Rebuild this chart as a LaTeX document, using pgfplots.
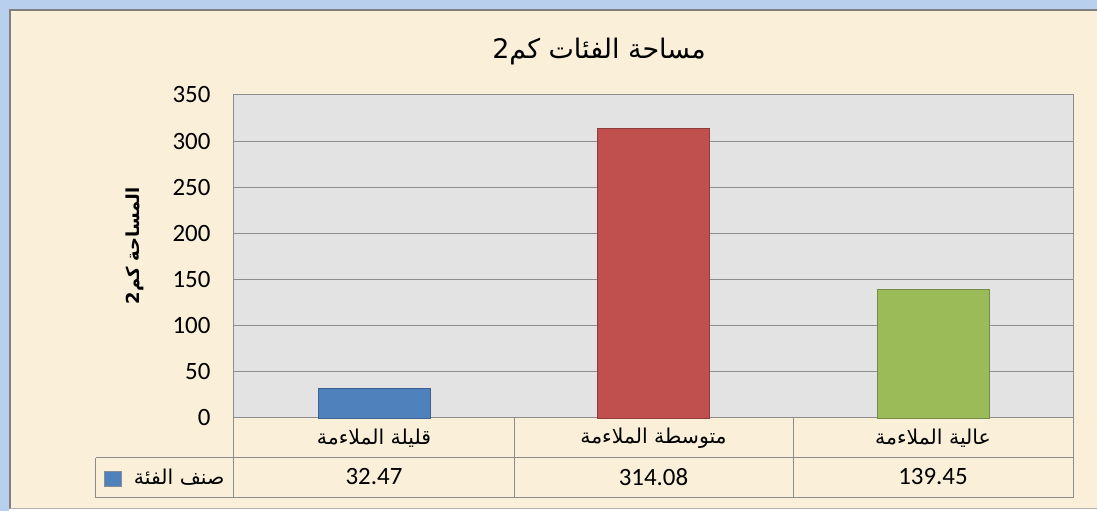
\documentclass[border=0pt]{standalone}
\usepackage{fontspec}
\setmainfont{Carlito}
\newfontfamily\arabicfont[Script=Arabic]{DejaVu Sans}
\usepackage{pgfplots}
\pgfplotsset{compat=1.18}
\TeXXeTstate=1
\definecolor{paper}{HTML}{FAEFD8}
\definecolor{plotgray}{HTML}{E3E3E3}
\definecolor{gridgray}{HTML}{8C8C8C}
\definecolor{framegray}{HTML}{7F7F7F}
\definecolor{glow}{HTML}{B8D0EE}
\definecolor{cblue}{HTML}{4F81BD}
\definecolor{cred}{HTML}{C0504D}
\definecolor{cgreen}{HTML}{9BBB59}

\begin{document}
\begin{tikzpicture}[x=1bp,y=1bp]
% pixel (px,py) of the reference -> (px-234, 418-py)
\useasboundingbox (-234,-93) rectangle (863,418);
\fill[white] (-234,-93) rectangle (863,418);
\draw[glow, line width=9bp] (-229,-100) -- (-229,413) -- (870,413);
\fill[paper] (-224,-91) rectangle (870,408);
\draw[framegray, line width=1.5bp] (-224,-91) -- (-224,408) -- (870,408);
\draw[framegray!60, line width=1bp] (-224,-91) -- (870,-91);

\node[font=\arabicfont\fontsize{27}{27}\selectfont] at (365,366) {\beginR مساحة الفئات كم2\endR};
\node[rotate=90, font=\arabicfont\bfseries\fontsize{18}{18}\selectfont] at (-99,172) {\beginR المساحة كم2\endR};

\begin{axis}[
  at={(0,0)}, anchor=south west,
  width=839bp, height=323bp, scale only axis,
  xmin=-0.5, xmax=2.5, ymin=0, ymax=350,
  ytick={0,50,...,350}, xtick=\empty,
  ymajorgrids, grid style={gridgray, line width=1bp},
  axis line style={gridgray, line width=1bp},
  axis background/.style={fill=plotgray},
  major tick length=0pt,
  yticklabel style={font=\fontsize{25}{25}\selectfont, /pgf/number format/assume math mode=true, xshift=-20bp},
  clip=false,
]
\addplot[ybar, bar width=0.4, bar shift=0pt, fill=cblue, draw=cblue!75!black] coordinates {(0,32.47)};
\addplot[ybar, bar width=0.4, bar shift=0pt, fill=cred, draw=cred!75!black] coordinates {(1,314.08)};
\addplot[ybar, bar width=0.4, bar shift=0pt, fill=cgreen, draw=cgreen!75!black] coordinates {(2,139.45)};
\end{axis}

% data table
\begin{scope}[gridgray, line width=1bp]
\draw (-138,-40) -- (839,-40);
\draw (-138,-80) -- (839,-80);
\draw (-138,-40) -- (-138,-80);
\draw (0,0) -- (0,-80);
\draw (280,0) -- (280,-80);
\draw (559,0) -- (559,-80);
\draw (839,0) -- (839,-80);
\end{scope}
\begin{scope}[font=\arabicfont\fontsize{20.5}{20.5}\selectfont]
\node at (140,-20) {\beginR قليلة الملاءمة\endR};
\node at (419.5,-20) {\beginR متوسطة الملاءمة\endR};
\node at (699,-20) {\beginR عالية الملاءمة\endR};
\node[anchor=east] at (-6,-59) {\beginR صنف الفئة\endR};
\end{scope}
\filldraw[fill=cblue, draw=gridgray, line width=0.8bp] (-130,-53) rectangle (-113,-68);
\begin{scope}[font=\fontsize{25}{25}\selectfont]
\node at (140,-59) {32.47};
\node at (419.5,-59) {314.08};
\node at (699,-59) {139.45};
\end{scope}
\end{tikzpicture}
\end{document}
